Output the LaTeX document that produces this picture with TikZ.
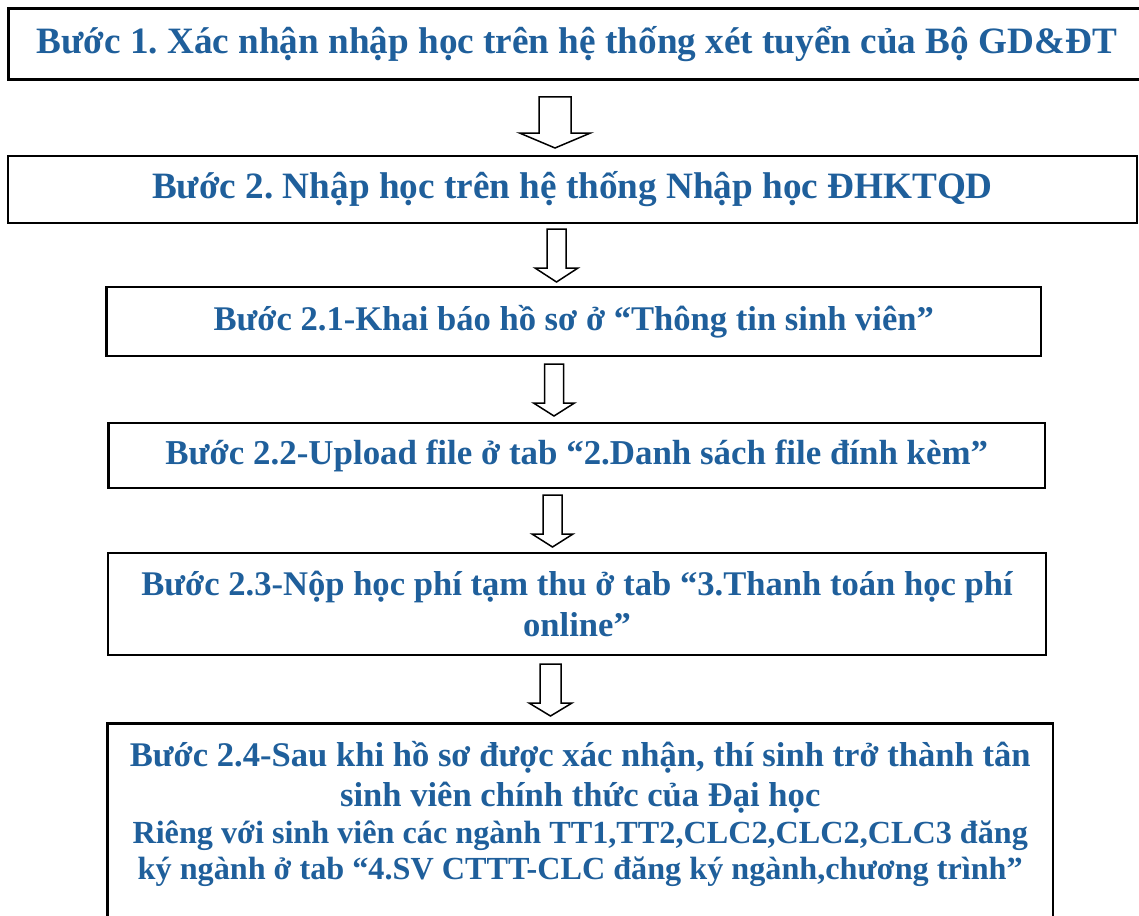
\documentclass[tikz,border=0pt]{standalone}
\usepackage{fontspec}
\setmainfont{Liberation Serif}
\frenchspacing
\definecolor{stepblue}{RGB}{31,95,155}
\newcommand\blockarr[6]{% top, shoulder, tip, centre x, shaft half, head half
  \draw[arrowline] (#4-#5,-#1) -- (#4+#5,-#1) -- (#4+#5,-#2) -- (#4+#6,-#2)
    -- (#4,-#3) -- (#4-#6,-#2) -- (#4-#5,-#2) -- cycle;}
\newcommand\smallline{\fontsize{32.2}{36}\selectfont}
\begin{document}
\begin{tikzpicture}[x=1pt,y=1pt,
  box/.style={draw=black, line width=2.5pt, rectangle, inner sep=0pt, align=center,
    text=stepblue, font=\bfseries},
  bigtxt/.style={font=\fontsize{37.2}{42}\selectfont\bfseries},
  midtxt/.style={font=\fontsize{34.6}{41}\selectfont\bfseries},
  arrowline/.style={draw=black, line width=1.5pt, fill=white, line join=miter}]
\useasboundingbox (0,0) rectangle (1139,-915);
\clip (0,0) rectangle (1139,-915);
\node[box, bigtxt, line width=3pt, minimum width=1136.5pt, minimum height=71pt] (b1) at (576.75,-44.5)
  {Bước 1. Xác nhận nhập học trên hệ thống xét tuyển của Bộ GD\&ĐT};
\node[box, bigtxt, minimum width=1129pt, minimum height=67pt] (b2) at (572.5,-189.5)
  {Bước 2. Nhập học trên hệ thống Nhập học ĐHKTQD};
\node[box, midtxt, minimum width=934.5pt, minimum height=69pt] (b3) at (573.75,-321.5)
  {Bước 2.1-Khai báo hồ sơ ở “Thông tin sinh viên”};
\node[box, midtxt, font=\fontsize{34.9}{41}\selectfont\bfseries, minimum width=936.5pt, minimum height=65pt] (b4) at (576.75,-455.5)
  {Bước 2.2-Upload file ở tab “2.Danh sách file đính kèm”};
\node[box, midtxt, minimum width=938pt, minimum height=102pt] (b5) at (577,-604)
  {Bước 2.3-Nộp học phí tạm thu ở tab “3.Thanh toán học phí\\online”};
\node[box, font=\fontsize{34.6}{40}\selectfont\bfseries, minimum width=945.5pt,
  inner ysep=18pt, anchor=north] (b6) at (580.25,-722)
  {Bước 2.4-Sau khi hồ sơ được xác nhận, thí sinh trở thành tân\\
   sinh viên chính thức của Đại học\\[-3pt]
   {\smallline Riêng với sinh viên các ngành TT1,TT2,CLC2,CLC2,CLC3 đăng}\\[-4pt]
   {\smallline ký ngành ở tab “4.SV CTTT-CLC đăng ký ngành,chương trình”}\\[40pt]\mbox{}};
\blockarr{97}{133}{148}{555}{16}{35.5}
\blockarr{229}{268}{282}{556.5}{9.5}{21.5}
\blockarr{364}{403}{416}{554}{9.5}{20.5}
\blockarr{495}{534}{547}{552.5}{9.5}{20.5}
\blockarr{664}{703}{716}{550.5}{10.5}{21.5}
\end{tikzpicture}
\end{document}
